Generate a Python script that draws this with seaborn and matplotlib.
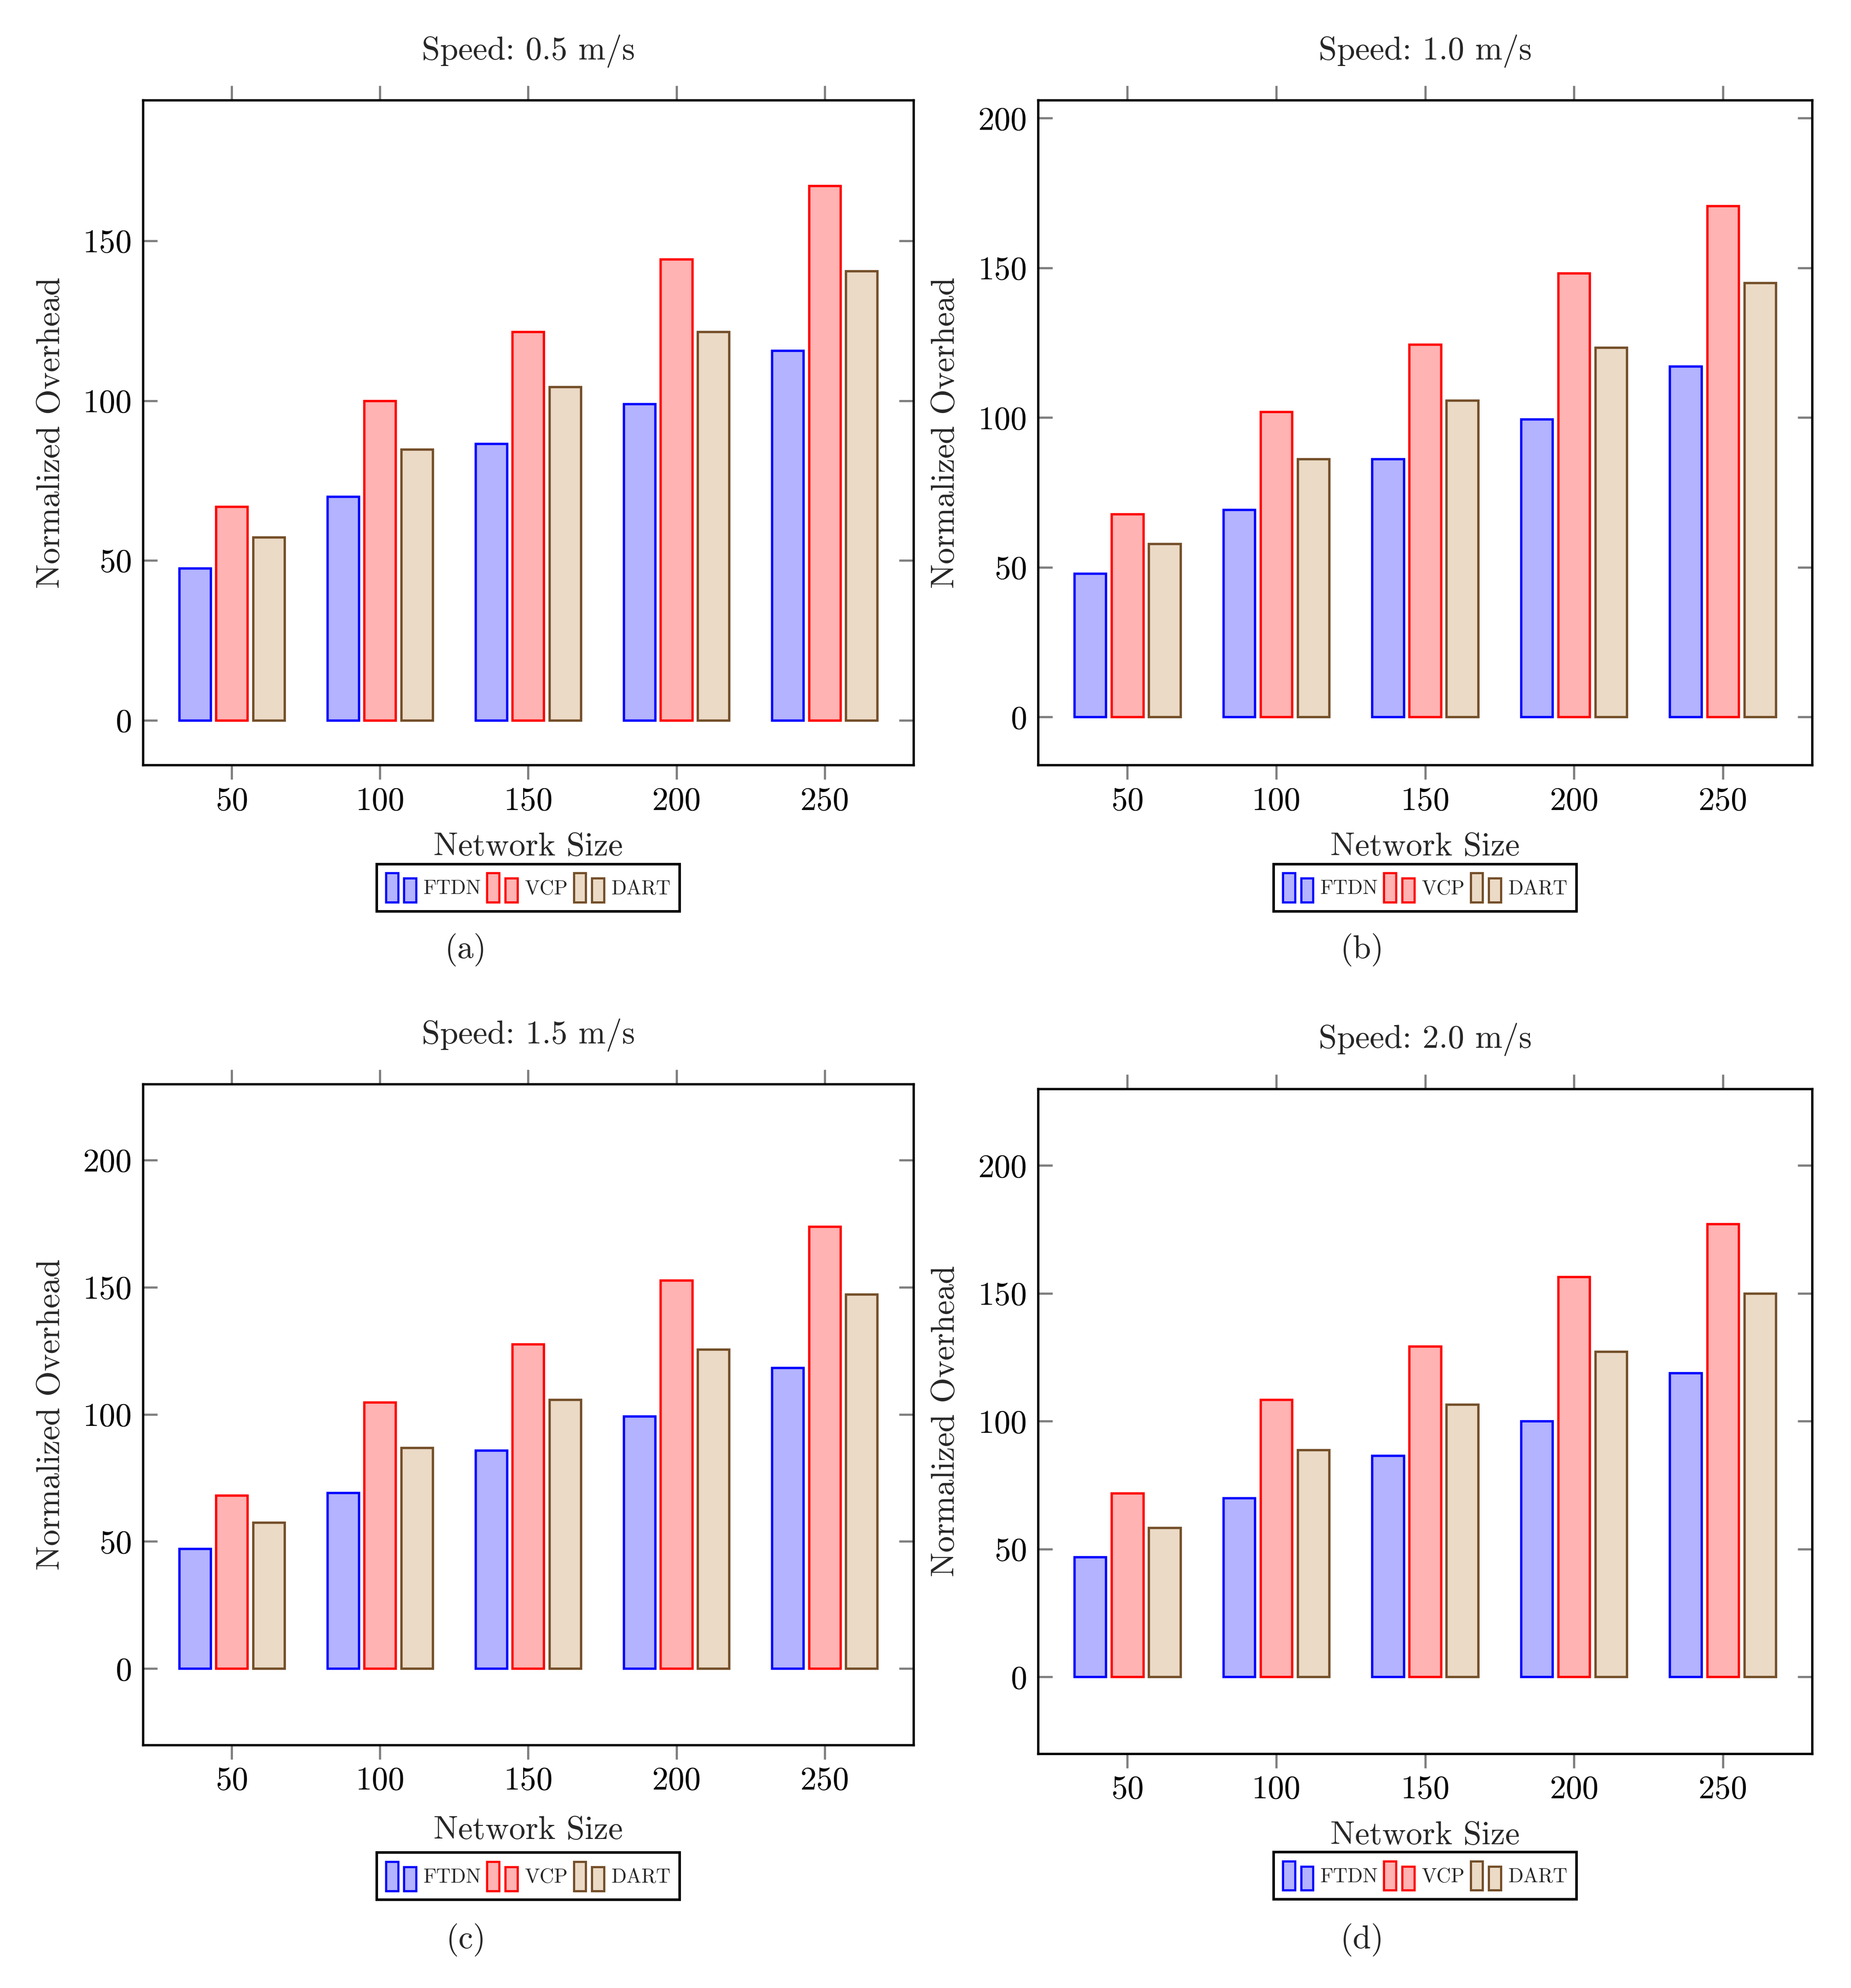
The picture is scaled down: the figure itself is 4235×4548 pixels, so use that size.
import pandas as pd
import seaborn as sns
import matplotlib.pyplot as plt
from matplotlib.patches import Patch, Rectangle
from matplotlib.legend_handler import HandlerBase
from matplotlib.colors import to_hex

# network sizes on the x axis
sizes = [50, 100, 150, 200, 250]
protocols = ["FTDN", "VCP", "DART"]
speeds = ["0.5", "1.0", "1.5", "2.0"]
tags = ["(a)", "(b)", "(c)", "(d)"]

# normalized overhead
ftdn_05 = [47.5, 70.0, 86.6, 99.0, 115.7]
vcp_05 = [66.8, 100.0, 121.5, 144.2, 167.2]
dart_05 = [57.3, 84.8, 104.3, 121.5, 140.6]

ftdn_10 = [47.9, 69.3, 86.2, 99.5, 117.2]
vcp_10 = [67.8, 102.0, 124.5, 148.2, 170.7]
dart_10 = [57.8, 86.2, 105.7, 123.4, 145.0]

ftdn_15 = [47.2, 69.1, 85.9, 99.2, 118.3]
vcp_15 = [68.1, 104.8, 127.6, 152.8, 173.9]
dart_15 = [57.5, 86.9, 105.8, 125.6, 147.2]

ftdn_20 = [46.9, 69.9, 86.5, 100.0, 118.8]
vcp_20 = [71.9, 108.5, 129.3, 156.4, 177.2]
dart_20 = [58.4, 88.7, 106.5, 127.3, 149.9]

panels = [
    (ftdn_05, vcp_05, dart_05),
    (ftdn_10, vcp_10, dart_10),
    (ftdn_15, vcp_15, dart_15),
    (ftdn_20, vcp_20, dart_20),
]

fill = {"FTDN": "#B3B3FF", "VCP": "#FFB3B3", "DART": "#EBDAC6"}
edge = {"FTDN": "#0000FF", "VCP": "#FF0000", "DART": "#744F29"}

ylims = [(-14, 194), (-16, 206), (-30, 230), (-30, 230)]
yticks = [[0, 50, 100, 150], [0, 50, 100, 150, 200],
          [0, 50, 100, 150, 200], [0, 50, 100, 150, 200]]
boxes = [[0.0772, 0.6152, 0.4163, 0.3344],
         [0.5608, 0.6152, 0.4182, 0.3344],
         [0.0772, 0.1223, 0.4163, 0.3325],
         [0.5608, 0.1179, 0.4182, 0.3344]]
xlabel_y = [-0.124, -0.124, -0.130, -0.124]
legend_y = [-0.149, -0.149, -0.163, -0.148]
tag_xy = [(0.2517, 0.5222), (0.736, 0.5222), (0.2517, 0.0242), (0.736, 0.0242)]

sns.set_style("white")
plt.rcParams["font.family"] = ["cmr10", "DejaVu Serif"]
plt.rcParams["axes.unicode_minus"] = False
plt.rcParams["axes.formatter.use_mathtext"] = True
plt.rcParams["mathtext.fontset"] = "cm"


class TwoBars(HandlerBase):
    # pgfplots style legend image: a tall and a shorter bar
    def create_artists(self, legend, orig_handle, xdescent, ydescent,
                       width, height, fontsize, trans):
        bw = 0.4 * width
        out = []
        for x0, h in [(0, height), (width - bw, 0.82 * height)]:
            r = Rectangle((-xdescent + x0, -ydescent), bw, h,
                          facecolor=orig_handle.get_facecolor(),
                          edgecolor=orig_handle.get_edgecolor(),
                          linewidth=1.2, transform=trans)
            out.append(r)
        return out


fig = plt.figure(figsize=(4235 / 300, 4548 / 300), dpi=300)

for i, (ftdn, vcp, dart) in enumerate(panels):
    df = pd.DataFrame({
        "size": sizes * 3,
        "overhead": ftdn + vcp + dart,
        "protocol": ["FTDN"] * 5 + ["VCP"] * 5 + ["DART"] * 5,
    })
    ax = fig.add_axes(boxes[i])
    sns.barplot(df, x="size", y="overhead", hue="protocol",
                hue_order=protocols, palette=fill, native_scale=True,
                width=0.75, gap=0.15, saturation=1, errorbar=None,
                legend=False, ax=ax)
    face_to_edge = {to_hex(fill[p]): edge[p] for p in protocols}
    for bar in ax.patches:
        bar.set_edgecolor(face_to_edge[to_hex(bar.get_facecolor())])
        bar.set_linewidth(1.3)

    ax.set_xlim(20, 280)
    ax.set_ylim(*ylims[i])
    ax.set_xticks(sizes, [str(s) for s in sizes])
    ax.set_yticks(yticks[i], [str(t) for t in yticks[i]])
    ax.tick_params(axis="x", bottom=True, top=True, direction="out",
                   length=8, width=1.2, color="#808080", pad=4,
                   labelsize=18, labelcolor="black")
    ax.tick_params(axis="y", left=True, right=True, direction="in",
                   length=8, width=1.2, color="#808080", pad=6,
                   labelsize=18, labelcolor="black")
    for sp in ax.spines.values():
        sp.set_color("black")
        sp.set_linewidth(1.3)

    ax.set_xlabel("Network Size", fontsize=18)
    ax.set_ylabel("Normalized Overhead", fontsize=18)
    ax.xaxis.set_label_coords(0.5, xlabel_y[i])
    ax.xaxis.label.set_va("center")
    ax.yaxis.set_label_coords(-0.119, 0.5)
    ax.yaxis.label.set_va("center")
    ax.set_title(f"Speed: {speeds[i]} m/s", fontsize=18, y=1.074,
                 va="center", pad=0)

    handles = [Patch(facecolor=fill[p], edgecolor=edge[p]) for p in protocols]
    leg = ax.legend(handles, [p for p in protocols], ncol=3,
                    loc="upper center", bbox_to_anchor=(0.5, legend_y[i]),
                    borderaxespad=0, handler_map={Patch: TwoBars()},
                    fontsize=11, handlelength=1.52, handleheight=1.87,
                    handletextpad=0.35, columnspacing=0.3, borderpad=0.45,
                    fancybox=False, framealpha=1, edgecolor="black")
    leg.get_frame().set_linewidth(1.4)

    fig.text(*tag_xy[i], tags[i], fontsize=18, ha="center", va="center")

fig.savefig("out.png", dpi=300)
